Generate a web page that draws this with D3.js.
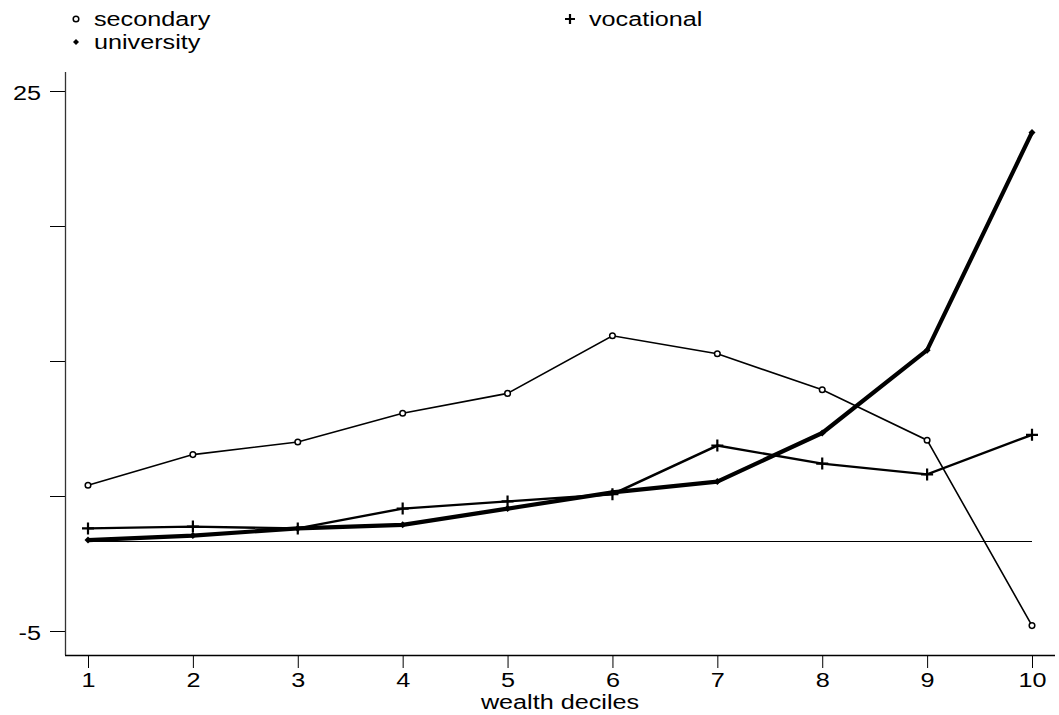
<!DOCTYPE html>
<html>
<head>
<meta charset="utf-8">
<script src="https://cdn.jsdelivr.net/npm/d3@7"></script>
<style>
body { margin: 0; background: #fff; }
text { font-family: "Liberation Sans", Arial, sans-serif; fill: #000; }
</style>
</head>
<body>
<script>
// wealth deciles and the three series
var deciles = [1, 2, 3, 4, 5, 6, 7, 8, 9, 10];
var secondary = [3.1, 4.8, 5.5, 7.1, 8.2, 11.4, 10.4, 8.4, 5.6, -4.7];
var vocational = [0.7, 0.8, 0.7, 1.8, 2.2, 2.6, 5.3, 4.3, 3.7, 5.9];
var university = [0.05, 0.3, 0.7, 0.9, 1.8, 2.7, 3.3, 6.0, 10.6, 22.7];
var yTicks = [-5, 2.5, 10, 17.5, 25];
var yLabels = [-5, 25];

var w = 1059, h = 715;
var stretch = 1.2; // text in the original is drawn wide

var svg = d3.select("body").append("svg")
    .attr("width", w)
    .attr("height", h);

var xScale = d3.scaleLinear().domain([1, 10]).range([88, 1032]);
var yScale = d3.scaleLinear().domain([-5, 25]).range([631, 91]);

// put a text at x,y and widen it
function wide(t, x, y) {
    t.attr("transform", "translate(" + x + "," + y + ") scale(" + stretch + ",1)")
        .attr("x", 0).attr("y", 0);
}

// y axis
var yAxis = d3.axisLeft(yScale)
    .tickValues(yTicks)
    .tickSize(15)
    .tickPadding(8)
    .tickFormat(function(d) { return yLabels.indexOf(d) >= 0 ? d : ""; });

var gy = svg.append("g").attr("transform", "translate(65,0)").call(yAxis);
gy.select(".domain").remove();
gy.selectAll("line").attr("stroke", "#000");
gy.selectAll("text").attr("font-size", "21px").attr("fill", "#000")
    .attr("dy", null)
    .each(function() { wide(d3.select(this), -24, 8); });
svg.append("line").attr("x1", 65.5).attr("x2", 65.5).attr("y1", 72).attr("y2", 655)
    .attr("stroke", "#333").attr("stroke-width", 1.3);

// x axis
var xAxis = d3.axisBottom(xScale)
    .tickValues(deciles)
    .tickSize(13)
    .tickFormat(d3.format("d"));

var gx = svg.append("g").attr("transform", "translate(0,655)").call(xAxis);
gx.select(".domain").remove();
gx.selectAll("line").attr("stroke", "#000");
gx.selectAll("text").attr("font-size", "21px").attr("fill", "#000")
    .attr("dy", null)
    .each(function() { wide(d3.select(this), 0, 32); });
svg.append("line").attr("x1", 65).attr("x2", 1055).attr("y1", 655.5).attr("y2", 655.5)
    .attr("stroke", "#000").attr("stroke-width", 1.3);

var xt = svg.append("text")
    .attr("text-anchor", "middle")
    .attr("font-size", "21px")
    .text("wealth deciles");
wide(xt, (xScale(1) + xScale(10)) / 2, 709);

// zero reference line
svg.append("line")
    .attr("x1", xScale(1)).attr("x2", xScale(10))
    .attr("y1", Math.round(yScale(0)) + 0.5).attr("y2", Math.round(yScale(0)) + 0.5)
    .attr("stroke", "#000").attr("stroke-width", 1);

var line = d3.line()
    .x(function(d, i) { return xScale(deciles[i]); })
    .y(function(d) { return yScale(d); });

// secondary
svg.append("path").datum(secondary)
    .attr("d", line).attr("fill", "none")
    .attr("stroke", "#000").attr("stroke-width", 1.6);
svg.selectAll(".sec").data(secondary).enter().append("circle")
    .attr("class", "sec")
    .attr("cx", function(d, i) { return xScale(deciles[i]); })
    .attr("cy", function(d) { return yScale(d); })
    .attr("r", 2.8)
    .attr("fill", "#fff").attr("stroke", "#000").attr("stroke-width", 1.5);

// vocational
svg.append("path").datum(vocational)
    .attr("d", line).attr("fill", "none")
    .attr("stroke", "#000").attr("stroke-width", 2.4);
svg.selectAll(".voc").data(vocational).enter().append("path")
    .attr("class", "voc")
    .attr("transform", function(d, i) {
        return "translate(" + xScale(deciles[i]) + "," + yScale(d) + ")";
    })
    .attr("d", "M-6,0H6M0,-6V6")
    .attr("stroke", "#000").attr("stroke-width", 2.2);

// university
svg.append("path").datum(university)
    .attr("d", line).attr("fill", "none")
    .attr("stroke", "#000").attr("stroke-width", 4.2).attr("stroke-linejoin", "round");
svg.selectAll(".uni").data(university).enter().append("path")
    .attr("class", "uni")
    .attr("transform", function(d, i) {
        return "translate(" + xScale(deciles[i]) + "," + yScale(d) + ")";
    })
    .attr("d", "M0,-3.5L3.5,0L0,3.5L-3.5,0Z")
    .attr("fill", "#000");

// legend
var lg = svg.append("g");
lg.append("circle").attr("cx", 76).attr("cy", 19).attr("r", 2.8)
    .attr("fill", "#fff").attr("stroke", "#000").attr("stroke-width", 1.5);
wide(lg.append("text").attr("font-size", "21px").text("secondary"), 94, 26);
lg.append("path").attr("transform", "translate(76,42)")
    .attr("d", "M0,-3L3,0L0,3L-3,0Z").attr("fill", "#000");
wide(lg.append("text").attr("font-size", "21px").text("university"), 94, 49);
lg.append("path").attr("transform", "translate(570,19)")
    .attr("d", "M-5,0H5M0,-5V5").attr("stroke", "#000").attr("stroke-width", 2.2);
wide(lg.append("text").attr("font-size", "21px").text("vocational"), 589, 26);
</script>
</body>
</html>
